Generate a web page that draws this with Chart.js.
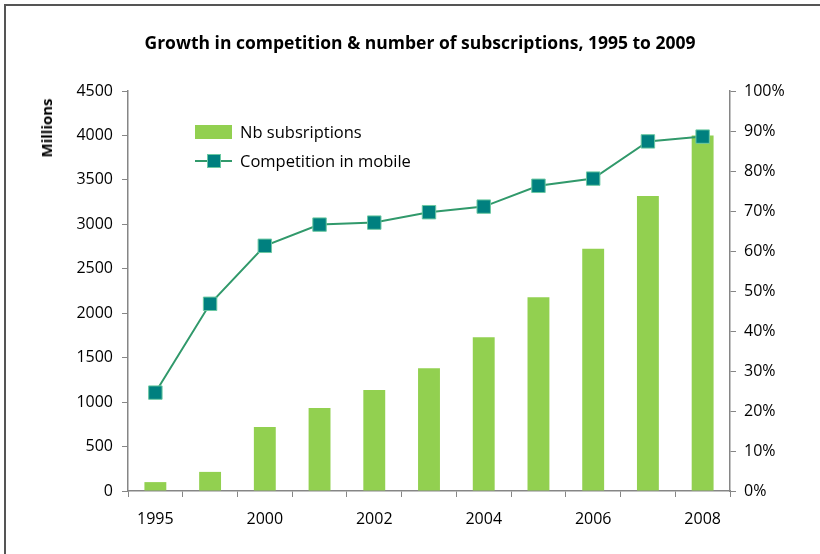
<!DOCTYPE html>
<html>
<head>
<meta charset="utf-8">
<script src="https://cdn.jsdelivr.net/npm/chart.js@4"></script>
<style>
  html, body { margin: 0; padding: 0; background: #fff; }
  #wrap { position: relative; width: 820px; height: 554px; overflow: hidden; font-family: "Open Sans", "Noto Sans", sans-serif; }
  #frame { position: absolute; left: 4px; top: 4px; width: 900px; height: 700px; border-left: 2px solid #555; border-top: 2px solid #555; }
  #title { position: absolute; left: 10px; width: 820px; top: 30px; text-align: center; font-weight: bold; font-size: 17.5px; color: #000; }
  #ytitle { position: absolute; left: 46px; top: 128px; transform: translate(-50%, -50%) rotate(-90deg); font-weight: bold; font-size: 15px; }
  #legend { position: absolute; left: 195px; top: 117px; font-size: 16.5px; color: #000; }
  .row { display: flex; align-items: center; height: 29px; }
  .sw { width: 37px; height: 14px; margin-right: 8px; position: relative; }
  canvas { position: absolute; left: 0; top: 0; }
</style>
</head>
<body>
<div id="wrap">
  <div id="frame"></div>
  <canvas id="c" width="820" height="554"></canvas>
  <div id="title">Growth in competition &amp; number of subscriptions, 1995 to 2009</div>
  <div id="ytitle">Millions</div>
  <div id="legend">
    <div class="row"><div class="sw" style="background:#92d050"></div>Nb subsriptions</div>
    <div class="row"><div class="sw">
      <div style="position:absolute;left:0;top:6px;width:37px;height:2px;background:#31996b"></div>
      <div style="position:absolute;left:12px;top:0;width:12px;height:12px;background:#00807f;border:1px solid #6cc9a3"></div>
    </div>Competition in mobile</div>
  </div>
</div>
<script>
// ---- Daten ----
const years         = ["1995", "1998", "2000", "2001", "2002", "2003", "2004", "2005", "2006", "2007", "2008"];
const subscriptions = [100, 215, 720, 935, 1135, 1380, 1730, 2180, 2725, 3320, 4000];
const competition   = [24.6, 46.8, 61.3, 66.6, 67.1, 69.7, 71.1, 76.3, 78.1, 87.4, 88.6];

const axisGrey = "#868686";
const tickFont = { family: "Open Sans, Noto Sans, sans-serif", size: 16 };

new Chart(document.getElementById("c").getContext("2d"), {
  data: {
    labels: years,
    datasets: [
      {
        type: "line", label: "Competition in mobile", data: competition, yAxisID: "y2", order: 0,
        borderColor: "#31996b", borderWidth: 2, tension: 0,
        pointStyle: "rect", pointRadius: 9.5, pointHoverRadius: 9.5,
        pointBackgroundColor: "#00807f", pointBorderColor: "#6cc9a3", pointBorderWidth: 1
      },
      {
        type: "bar", label: "Nb subsriptions", data: subscriptions, yAxisID: "y", order: 1,
        backgroundColor: "#92d050", categoryPercentage: 1, barPercentage: 0.4
      }
    ]
  },
  options: {
    responsive: false,
    animation: false,
    layout: { padding: { top: 91, left: 0, right: 0, bottom: 0 } },
    plugins: { legend: { display: false }, tooltip: { enabled: false } },
    scales: {
      x: {
        offset: true,
        grid: { offset: true, drawOnChartArea: false, tickLength: 6, color: axisGrey },
        border: { color: axisGrey, width: 1.5 },
        ticks: {
          autoSkip: false, maxRotation: 0, padding: 13, color: "#000", font: tickFont,
          callback: (v, i) => i % 2 === 0 ? years[i] : ""
        },
        afterFit: (s) => { s.height = 63; }
      },
      y: {
        position: "left", min: 0, max: 4500,
        grid: { drawOnChartArea: false, tickLength: 6, color: axisGrey },
        border: { color: axisGrey, width: 1.5 },
        ticks: { stepSize: 500, padding: 9, color: "#000", font: tickFont, callback: (v) => String(v) },
        afterFit: (s) => { s.width = 128; }
      },
      y2: {
        position: "right", min: 0, max: 100,
        grid: { drawOnChartArea: false, tickLength: 6, color: axisGrey },
        border: { color: axisGrey, width: 1.5 },
        ticks: { stepSize: 10, padding: 8, color: "#000", font: tickFont, callback: (v) => v + "%" },
        afterFit: (s) => { s.width = 90; }
      }
    }
  }
});
</script>
</body>
</html>
